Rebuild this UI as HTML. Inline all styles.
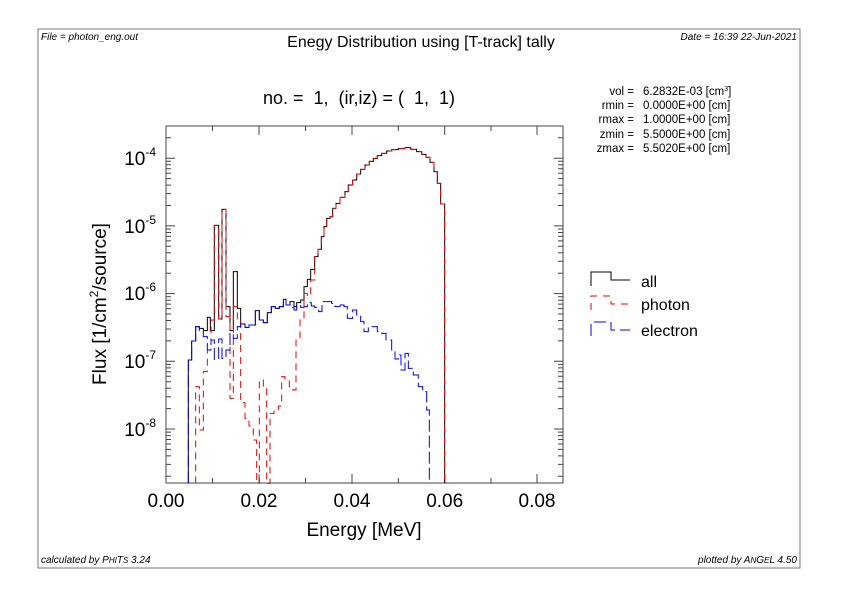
<!DOCTYPE html>
<html><head><meta charset="utf-8"><style>
html,body{margin:0;padding:0;background:#fff;}
svg{display:block;font-family:"Liberation Sans",Arial,sans-serif;}
</style></head><body>
<svg width="842" height="595" viewBox="0 0 842 595" xmlns="http://www.w3.org/2000/svg">
<rect x="0" y="0" width="842" height="595" fill="#fff"/>
<rect x="38" y="29" width="762" height="539" fill="none" stroke="#777" stroke-width="1"/>
<text x="41" y="40" font-size="10" font-style="italic">File = photon_eng.out</text>
<text x="797" y="40" font-size="10" font-style="italic" text-anchor="end">Date = 16:39 22-Jun-2021</text>
<text x="41" y="563" font-size="10" font-style="italic">calculated by P<tspan font-size="8">HI</tspan>T<tspan font-size="8">S</tspan> 3.24</text>
<text x="797" y="563" font-size="10" font-style="italic" text-anchor="end">plotted by A<tspan font-size="8">N</tspan>G<tspan font-size="8">E</tspan>L 4.50</text>
<text x="421" y="47" font-size="16" text-anchor="middle">Enegy Distribution using [T-track] tally</text>
<text x="359" y="104" font-size="18" text-anchor="middle" xml:space="preserve">no. =  1,  (ir,iz) = (  1,  1)</text>
<g font-size="11.5" text-anchor="end">
<text x="634" y="95">vol  =</text><text x="634" y="109">rmin  =</text><text x="634" y="123">rmax  =</text><text x="634" y="138">zmin  =</text><text x="634" y="152">zmax  =</text>
</g>
<g font-size="11.5">
<text x="643" y="95">6.2832E-03 [cm<tspan font-size="7" dy="-4">3</tspan><tspan dy="4">]</tspan></text>
<text x="643" y="109">0.0000E+00 [cm]</text>
<text x="643" y="123">1.0000E+00 [cm]</text>
<text x="643" y="138">5.5000E+00 [cm]</text>
<text x="643" y="152">5.5020E+00 [cm]</text>
</g>
<!-- legend -->
<path d="M591,286 V272 H611 V280 H630" fill="none" stroke="#000" stroke-width="1"/>
<text x="641" y="287" font-size="16">all</text>
<path d="M591,310 V296 H611 V304 H630" fill="none" stroke="#e00" stroke-width="1" stroke-dasharray="7,6"/>
<text x="641" y="310" font-size="16">photon</text>
<path d="M591,336 V322 H611 V330 H630" fill="none" stroke="#00f" stroke-width="1" stroke-dasharray="12,5"/>
<text x="641" y="336" font-size="16">electron</text>
<!-- frame -->
<rect x="166" y="126" width="397" height="357" fill="none" stroke="#444" stroke-width="1"/>
<g stroke="#444" stroke-width="1">
<path d="M259,483v-9M352,483v-9M444.7,483v-9M537,483v-9M259,126v9M352,126v9M444.7,126v9M537,126v9"/>
<path d="M212.5,483v-5M305.5,483v-5M398.3,483v-5M491,483v-5M212.5,126v5M305.5,126v5M398.3,126v5M491,126v5"/>
<path d="M166,158.2h9M166,225.9h9M166,293.6h9M166,361.3h9M166,429h9M563,158.2h-9M563,225.9h-9M563,293.6h-9M563,361.3h-9M563,429h-9"/>
<path id="mn" d="M166,476.3h5M166,464.4h5M166,455.9h5M166,449.4h5M166,444h5M166,439.5h5M166,435.6h5M166,432.1h5M166,408.6h5M166,396.7h5M166,388.2h5M166,381.7h5M166,376.3h5M166,371.8h5M166,367.9h5M166,364.4h5M166,340.9h5M166,329h5M166,320.5h5M166,314h5M166,308.6h5M166,304.1h5M166,300.2h5M166,296.7h5M166,273.2h5M166,261.3h5M166,252.8h5M166,246.3h5M166,240.9h5M166,236.4h5M166,232.5h5M166,229h5M166,205.5h5M166,193.6h5M166,185.1h5M166,178.6h5M166,173.2h5M166,168.7h5M166,164.8h5M166,161.3h5M166,137.8h5"/>
<use href="#mn" transform="translate(729,0) scale(-1,1)"/>
</g>
<g font-size="19" text-anchor="middle">
<text x="166" y="507">0.00</text><text x="259" y="507">0.02</text><text x="352" y="507">0.04</text><text x="444.7" y="507">0.06</text><text x="537" y="507">0.08</text>
</g>
<text x="364" y="536" font-size="19" text-anchor="middle">Energy [MeV]</text>
<g font-size="19" text-anchor="end">
<text x="156" y="165">10<tspan font-size="12" dy="-9">-4</tspan></text>
<text x="156" y="233">10<tspan font-size="12" dy="-9">-5</tspan></text>
<text x="156" y="300">10<tspan font-size="12" dy="-9">-6</tspan></text>
<text x="156" y="368">10<tspan font-size="12" dy="-9">-7</tspan></text>
<text x="156" y="436">10<tspan font-size="12" dy="-9">-8</tspan></text>
</g>
<text transform="translate(106,304) rotate(-90)" font-size="19" text-anchor="middle">Flux [1/cm<tspan font-size="12" dy="-8">2</tspan><tspan dy="8">/source]</tspan></text>
<!-- data zoom1 -->
<g transform="translate(150,120) scale(0.33333)" fill="none" stroke-width="3">
<path stroke="#000" d="M115,1090 V720 H125 V663 H137 V620 H148 V625 H160 V632 H172 V592 H181 V632 H193 V316 H206 V597 H216 V268 H228 V560 H240 V632 H250 V455 H262 V565 H272 V612 H285 V622 H297 V615 H316 V572 H328 V600 H340 V608 H352 V578 H364 V560 H376 V565 H388 V560 H400 V538 H408 V555 H420 V545 H432 V560 H440 V548 H452 V540 H462 V500 H472 V478 H482 V448 H494 V410 H504 V388 H514 V350 H522 V320 H530 V295 H540 V290 H548 V265 H558 V250 H570 V232"/>
<path stroke="#e00" stroke-dasharray="21,15" d="M137,1090 V800 H148 V930 H160 V755 H172 V690 H183 V600 H193 V316 H206 V597 H216 V268 H228 V590 H240 V835 H250 V560 H262 V602 H272 V848 H285 V895 H297 V918 H310 V960 H320 V1090 H328 V780 H340 V800 H350 V1090 H360 V880 H372 V870 H385 V858 H395 V770 H405 V780 H418 V805 H428 V810 H438 V660 H450 V600 H462 V520 H472 V528 H482 V480 H494 V410 H504 V388 H514 V350 H522 V320 H530 V295 H540 V290 H548 V265 H558 V250 H570 V232"/>
<path stroke="#00f" stroke-dasharray="36,12" d="M115,1090 V720 H125 V663 H137 V620 H148 V632 H160 V650 H172 V690 H183 V660 H193 V718 H206 V657 H216 V715 H228 V690 H240 V640 H250 V655 H262 V620 H272 V612 H285 V622 H297 V615 H316 V572 H328 V600 H340 V608 H352 V578 H364 V560 H376 V565 H388 V560 H400 V538 H408 V555 H420 V563 H432 V570 H440 V555 H452 V562 H462 V560 H472 V548 H484 V558 H494 V562 H506 V575 H516 V545 H530 V545 H545 V550 H555 V560 H570 V555"/>
</g>
<g transform="translate(340,120) scale(0.33333)" fill="none" stroke-width="3">
<path stroke="#000" d="M0,232 H15 V215 H25 V195 H38 V180 H50 V162 H62 V148 H75 V135 H88 V124 H100 V115 H112 V107 H125 V100 H140 V93 H155 V89 H175 V86 H195 V83 H212 V88 H230 V95 H245 V103 H258 V112 H270 V127 H282 V155 H292 V190 H302 V252 H314 V1090"/>
<path stroke="#e00" stroke-dasharray="21,15" d="M0,232 H15 V215 H25 V195 H38 V180 H50 V162 H62 V148 H75 V135 H88 V124 H100 V115 H112 V107 H125 V100 H140 V93 H155 V89 H175 V86 H195 V83 H212 V88 H230 V95 H245 V103 H258 V112 H270 V127 H282 V155 H292 V190 H302 V252 H314 V1090"/>
<path stroke="#00f" stroke-dasharray="36,12" d="M0,555 H12 V560 H22 V595 H38 V570 H50 V585 H62 V605 H72 V635 H85 V620 H100 V620 H112 V635 H125 V640 H138 V660 H155 V690 H165 V717 H175 V705 H183 V750 H195 V700 H205 V745 H220 V765 H235 V800 H248 V815 H260 V870 H268 V1090"/>
</g>
</svg>
</body></html>
